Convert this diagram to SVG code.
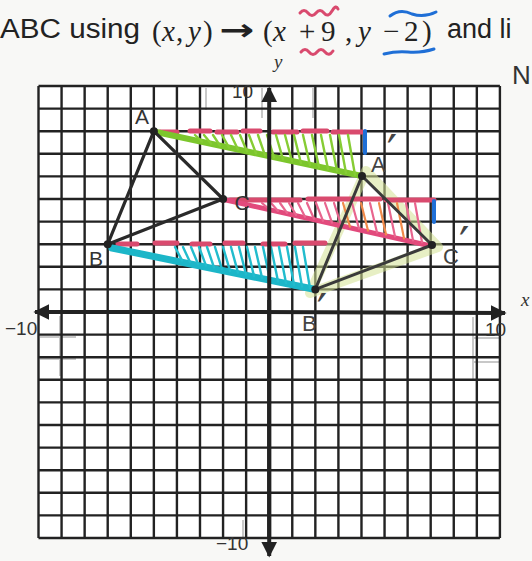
<svg xmlns="http://www.w3.org/2000/svg" width="532" height="561" viewBox="0 0 532 561">
<defs>
<style>
.grid{stroke:#222;stroke-width:2.4;fill:none}
.axis{stroke:#222;stroke-width:4;fill:none}
.ghost{stroke:#c8c8c8;stroke-width:2;fill:none}
.hdr{font-family:"Liberation Sans",Arial,sans-serif;font-size:27px;fill:#222}
.math{font-family:"Liberation Serif","Times New Roman",serif;font-size:29px;fill:#222}
.num{font-family:"Liberation Sans",Arial,sans-serif;font-size:19px;fill:#333}
.axl{font-family:"Liberation Serif","Times New Roman",serif;font-size:19px;font-style:italic;fill:#333}
.lbl{font-family:"Liberation Sans",Arial,sans-serif;font-size:21px;fill:#333}
.hand{font-family:"Liberation Sans",Arial,sans-serif;font-size:22px;fill:#444}
.prime{font-family:"DejaVu Sans",sans-serif;font-size:46px}
.tri{stroke:#2a2a2a;stroke-width:3.2;fill:none;stroke-linejoin:round}
.tri2{stroke:#3a3a3a;stroke-width:3;fill:none;stroke-linejoin:round}
.dash{stroke:#d94a6e;stroke-width:5;fill:none;stroke-linecap:round}
.green{stroke:#7cc62c;stroke-width:6;fill:none;stroke-linecap:round}
.ghatch{stroke:#86cc34;stroke-width:2.4;fill:none;stroke-linecap:round}
.pink{stroke:#e24a7c;stroke-width:5;fill:none;stroke-linecap:round}
.phatch{stroke:#e8658e;stroke-width:2.2;fill:none;stroke-linecap:round}
.ohatch{stroke:#f08a4a;stroke-width:2.2;fill:none;stroke-linecap:round}
.cyan{stroke:#1cb6c8;stroke-width:7;fill:none;stroke-linecap:round}
.chatch{stroke:#22bccd;stroke-width:2.4;fill:none;stroke-linecap:round}
.blue{stroke:#1f6fd6;stroke-width:4;fill:none;stroke-linecap:round}
.hl{stroke:#d3e294;stroke-opacity:0.55;stroke-width:10;fill:none;stroke-linejoin:round;stroke-linecap:round}
.dot{fill:#222}
</style>
<marker id="ah" viewBox="0 0 10 10" refX="9" refY="5" markerWidth="4" markerHeight="4" orient="auto-start-reverse" markerUnits="strokeWidth">
<path d="M0,0 L10,5 L0,10 z" fill="#222"/>
</marker>
</defs>
<rect width="532" height="561" fill="#f8f8f6"/>

<!-- header -->
<g id="header">
<text class="hdr" x="0" y="38" textLength="140" lengthAdjust="spacingAndGlyphs">ABC using</text>
<text class="math" y="41"><tspan x="152">(</tspan><tspan x="162" font-style="italic">x</tspan><tspan x="176">,</tspan><tspan x="188" font-style="italic">y</tspan><tspan x="203">)</tspan></text>
<text x="219" y="40" font-family="DejaVu Sans,sans-serif" font-weight="bold" font-size="30" fill="#222" textLength="35" lengthAdjust="spacingAndGlyphs">→</text>
<text class="math" y="41"><tspan x="263">(</tspan><tspan x="273" font-style="italic">x</tspan><tspan x="299">+</tspan><tspan x="321">9</tspan><tspan x="345">,</tspan><tspan x="358" font-style="italic">y</tspan><tspan x="383">−</tspan><tspan x="404">2</tspan><tspan x="422">)</tspan></text>
<text class="hdr" x="447" y="38">and li</text>
<path d="M300,13 q4,-5 8,0 t8,0 t8,0 t8,-2 t6,-2" stroke="#d94a6e" stroke-width="3" fill="none" stroke-linecap="round"/>
<path d="M301,52 q4,-5 8,0 t8,0 t8,0 t8,-1" stroke="#d94a6e" stroke-width="3" fill="none" stroke-linecap="round"/>
<path d="M390,16 q10,-8 22,-2 q12,4 24,-2" stroke="#1f6fd6" stroke-width="3" fill="none" stroke-linecap="round"/>
<path d="M384,54 q12,-3 24,-2 q14,1 26,-3" stroke="#1f6fd6" stroke-width="3" fill="none" stroke-linecap="round"/>
<text x="512" y="84" font-family="Liberation Sans,Arial,sans-serif" font-size="26" fill="#333">N</text>
</g>

<!-- grid -->
<g id="grid">
<rect x="38.5" y="86" width="461.4" height="452" fill="#fff"/>
<path class="ghost" d="M60,316 V376 M40,337 H76 M40,359 H76 M473,317 V380 M473,338 H500 M473,362 H500 M262,88 V118 M313,88 V118 M206,88 V110 M243,520 V538"/>
<path class="grid" d="M38.5,86 V538 M61.57,86 V538 M84.64,86 V538 M107.71,86 V538 M130.78,86 V538 M153.85,86 V538 M176.92,86 V538 M199.99,86 V538 M223.06,86 V538 M246.13,86 V538 M292.27,86 V538 M315.34,86 V538 M338.41,86 V538 M361.48,86 V538 M384.55,86 V538 M407.62,86 V538 M430.69,86 V538 M453.76,86 V538 M476.83,86 V538 M499.9,86 V538
M38.5,86 H499.9 M38.5,108.6 H499.9 M38.5,131.2 H499.9 M38.5,153.8 H499.9 M38.5,176.4 H499.9 M38.5,199 H499.9 M38.5,221.6 H499.9 M38.5,244.2 H499.9 M38.5,266.8 H499.9 M38.5,289.4 H499.9 M38.5,334.6 H499.9 M38.5,357.2 H499.9 M38.5,379.8 H499.9 M38.5,402.4 H499.9 M38.5,425 H499.9 M38.5,447.6 H499.9 M38.5,470.2 H499.9 M38.5,492.8 H499.9 M38.5,515.4 H499.9 M38.5,538 H499.9"/>
</g>

<!-- annotations (hand coloring) -->
<g id="annotations">
<path class="hl" d="M366,171 L310,293 L438,247 Z"/>
<!-- A row -->
<path class="dash" d="M160,132 H177 M190,131 H210 M217,132 H237 M243,131 H260 M273,132 H297 M303,131 H327 M333,132 H362"/>
<path class="green" d="M156,132 L362,176"/>
<path class="ghatch" d="M195,135 L202,141.7 M204,135 L211,143.6 M213,135 L220,145.6 M222,135 L229,147.6 M231,135 L238,149.5 M240,135 L247,151.5 M249,135 L256,153.4 M258,135 L265,155.4 M267,135 L274,157.3 M276,135 L283,159.3 M285,135 L292,161.3 M294,135 L301,163.2 M303,135 L310,165.2 M312,135 L319,167.2 M321,135 L328,169.1 M330,135 L337,171.1 M339,135 L346,173 M348,135 L355,175"/>
<path class="blue" d="M365,131 V153"/>
<!-- C row -->
<path class="dash" d="M230,200 H300 M308,199 H380 M386,200 H434"/>
<path class="pink" d="M226,200 L431,246"/>
<path class="phatch" d="M262,203 L269,209 M271,203 L278,211 M280,203 L287,212.9 M289,203 L296,214.9 M298,203 L305,216.8 M307,203 L314,218.8 M316,203 L323,220.8 M325,203 L332,222.7 M334,203 L341,224.7 M352,203 L359,228.6 M370,203 L377,232.5 M388,203 L395,236.5 M406,203 L413,240.4 M415,203 L422,242.3"/>
<path class="ohatch" d="M343,203 L350,226.7 M361,203 L368,230.6 M379,203 L386,234.5 M397,203 L404,238.4"/>
<path class="blue" d="M434,201 V222"/>
<!-- B row -->
<path class="dash" d="M118,244 H137 M155,243 H177 M192,244 H210 M225,243 H243 M263,244 H285 M295,243 H325"/>
<path class="cyan" d="M112,248 L313,289"/>
<path class="chatch" d="M175,247 L182,260.4 M183,247 L190,262.1 M191,247 L198,263.9 M199,247 L206,265.6 M207,247 L214,267.3 M215,247 L222,269.1 M223,247 L230,270.8 M231,247 L238,272.6 M239,247 L246,274.3 M247,247 L254,276.1 M255,247 L262,277.8 M263,247 L270,279.5 M271,247 L278,281.3 M279,247 L286,283 M287,247 L294,284.8 M295,247 L302,286.5 M303,247 L310,288.3"/>
</g>

<!-- axes -->
<g id="axes">
<line class="axis" x1="269.2" y1="538" x2="269.2" y2="88" marker-end="url(#ah)"/>
<line class="axis" x1="269.2" y1="300" x2="269.2" y2="556" marker-end="url(#ah)"/>
<line class="axis" x1="260" y1="312" x2="35" y2="312" marker-end="url(#ah)"/>
<line class="axis" x1="260" y1="312" x2="505" y2="313" marker-end="url(#ah)"/>
<text class="axl" x="274" y="68">y</text>
<text class="axl" x="521" y="306">x</text>
<text class="num" x="232" y="98">10</text>
<text class="num" x="5" y="335">−10</text>
<text class="num" x="485" y="336">10</text>
<text class="num" x="216" y="550">−10</text>
</g>

<!-- triangle ABC -->
<g id="triangle-ABC">
<path class="tri" d="M153.85,131.2 L107.71,244.2 L223.06,199 Z"/>
</g>
<g id="node-A"><circle class="dot" cx="153.85" cy="131.2" r="4"/><text class="lbl" x="142" y="124" text-anchor="middle">A</text></g>
<g id="node-B"><circle class="dot" cx="107.71" cy="244.2" r="4"/><text class="lbl" x="96" y="266" text-anchor="middle">B</text></g>
<g id="node-C"><circle class="dot" cx="223.06" cy="199" r="4"/><text class="lbl" x="242" y="210" text-anchor="middle">C</text></g>

<!-- triangle A'B'C' -->
<g id="triangle-ApBpCp">
<path class="tri2" d="M362,176 L315.34,289.4 L432,245 Z"/>
</g>
<g id="node-Ap"><circle class="dot" cx="362" cy="176" r="4"/><text class="hand" x="371" y="172">A<tspan class="prime" dx="1" dy="-4">′</tspan></text></g>
<g id="node-Bp"><circle class="dot" cx="315.34" cy="289.4" r="4"/><text class="hand" x="302" y="331" fill="#888">B<tspan class="prime" dx="0" dy="-4">′</tspan></text></g>
<g id="node-Cp"><circle class="dot" cx="432" cy="245" r="4"/><text class="hand" x="443" y="264">C<tspan class="prime" dx="0" dy="-4">′</tspan></text></g>
</svg>
